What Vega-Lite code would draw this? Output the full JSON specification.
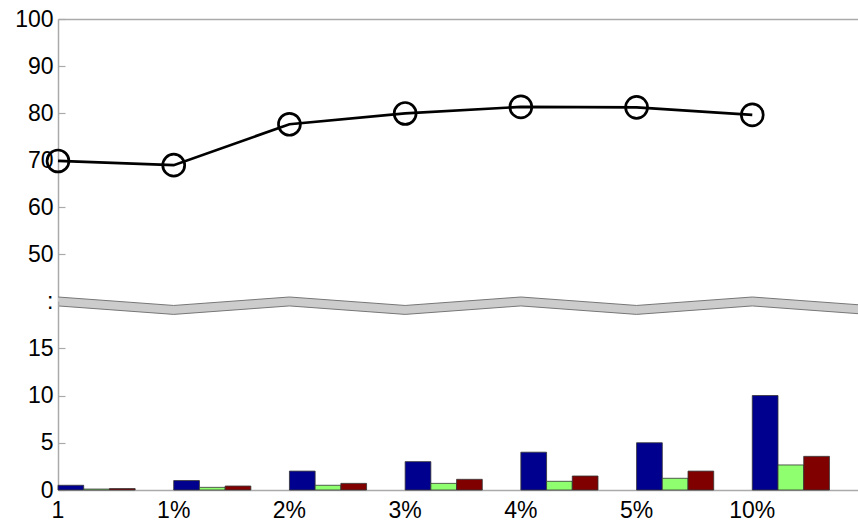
{
  "$schema": "https://vega.github.io/schema/vega-lite/v6.json",
  "padding": {"left": 14, "top": 8, "right": 0, "bottom": 0},
  "spacing": 0,
  "bounds": "flush",
  "config": {
    "view": {"stroke": null},
    "font": "Liberation Sans",
    "axis": {
      "labelFont": "Liberation Sans",
      "labelFontSize": 23,
      "labelColor": "#000000",
      "domainColor": "#aaaaaa",
      "domainWidth": 1.5,
      "tickColor": "#aaaaaa",
      "tickWidth": 1.2,
      "grid": false,
      "title": null
    }
  },
  "datasets": {
    "accuracy": [
      {"level": "1", "value": 69.8},
      {"level": "1%", "value": 68.9},
      {"level": "2%", "value": 77.6},
      {"level": "3%", "value": 79.9},
      {"level": "4%", "value": 81.3},
      {"level": "5%", "value": 81.2},
      {"level": "10%", "value": 79.6}
    ],
    "counts": [
      {"level": "1", "series": "A", "value": 0.5},
      {"level": "1", "series": "B", "value": 0.1},
      {"level": "1", "series": "C", "value": 0.15},
      {"level": "1%", "series": "A", "value": 1.0},
      {"level": "1%", "series": "B", "value": 0.28},
      {"level": "1%", "series": "C", "value": 0.42},
      {"level": "2%", "series": "A", "value": 2.0},
      {"level": "2%", "series": "B", "value": 0.5},
      {"level": "2%", "series": "C", "value": 0.7},
      {"level": "3%", "series": "A", "value": 3.0},
      {"level": "3%", "series": "B", "value": 0.7},
      {"level": "3%", "series": "C", "value": 1.13},
      {"level": "4%", "series": "A", "value": 4.0},
      {"level": "4%", "series": "B", "value": 0.92},
      {"level": "4%", "series": "C", "value": 1.48},
      {"level": "5%", "series": "A", "value": 5.0},
      {"level": "5%", "series": "B", "value": 1.24},
      {"level": "5%", "series": "C", "value": 2.0},
      {"level": "10%", "series": "A", "value": 10.0},
      {"level": "10%", "series": "B", "value": 2.65},
      {"level": "10%", "series": "C", "value": 3.56}
    ],
    "breakBand": [
      {"k": 0, "lo": 38.95, "hi": 40.85},
      {"k": 1, "lo": 37.15, "hi": 39.05},
      {"k": 2, "lo": 38.95, "hi": 40.85},
      {"k": 3, "lo": 37.15, "hi": 39.05},
      {"k": 4, "lo": 38.95, "hi": 40.85},
      {"k": 5, "lo": 37.15, "hi": 39.05},
      {"k": 6, "lo": 38.95, "hi": 40.85},
      {"k": 7, "lo": 37.15, "hi": 39.05}
    ]
  },
  "resolve": {"scale": {"x": "independent"}},
  "vconcat": [
    {
      "width": 810,
      "height": 282,
      "resolve": {"scale": {"x": "independent"}},
      "layer": [
        {
          "data": {"name": "accuracy"},
          "mark": {"type": "line", "color": "#000000", "strokeWidth": 2.7},
          "encoding": {
            "x": {
              "field": "level", "type": "ordinal", "sort": null, "bandPosition": 0,
              "scale": {"type": "band", "domain": ["1", "1%", "2%", "3%", "4%", "5%", "10%"], "paddingInner": 0, "paddingOuter": 0, "align": 0},
              "axis": {"orient": "top", "labels": false, "ticks": false}
            },
            "y": {
              "field": "value", "type": "quantitative",
              "scale": {"domain": [40, 100], "zero": false, "nice": false},
              "axis": {
                "values": [40, 50, 60, 70, 80, 90, 100],
                "labelExpr": "datum.value == 40 ? ':' : datum.label",
                "tickSize": -7,
                "labelPadding": 12,
                "labelFlush": false
              }
            }
          }
        },
        {
          "data": {"name": "accuracy"},
          "mark": {"type": "point", "filled": false, "color": "#000000", "strokeWidth": 2.7, "size": 480, "opacity": 1},
          "encoding": {
            "x": {
              "field": "level", "type": "ordinal", "sort": null, "bandPosition": 0,
              "scale": {"type": "band", "domain": ["1", "1%", "2%", "3%", "4%", "5%", "10%"], "paddingInner": 0, "paddingOuter": 0, "align": 0},
              "axis": null
            },
            "y": {"field": "value", "type": "quantitative", "scale": {"domain": [40, 100], "zero": false, "nice": false}}
          }
        },
        {
          "data": {"name": "breakBand"},
          "mark": {"type": "area", "color": "#cccccc", "opacity": 1},
          "encoding": {
            "x": {"field": "k", "type": "quantitative", "scale": {"domain": [0, 7], "nice": false, "zero": false}, "axis": null},
            "y": {"field": "hi", "type": "quantitative", "scale": {"domain": [40, 100], "zero": false, "nice": false}},
            "y2": {"field": "lo"}
          }
        },
        {
          "data": {"name": "breakBand"},
          "mark": {"type": "line", "color": "#777777", "strokeWidth": 1},
          "encoding": {
            "x": {"field": "k", "type": "quantitative", "scale": {"domain": [0, 7], "nice": false, "zero": false}, "axis": null},
            "y": {"field": "hi", "type": "quantitative", "scale": {"domain": [40, 100], "zero": false, "nice": false}}
          }
        },
        {
          "data": {"name": "breakBand"},
          "mark": {"type": "line", "color": "#777777", "strokeWidth": 1},
          "encoding": {
            "x": {"field": "k", "type": "quantitative", "scale": {"domain": [0, 7], "nice": false, "zero": false}, "axis": null},
            "y": {"field": "lo", "type": "quantitative", "scale": {"domain": [40, 100], "zero": false, "nice": false}}
          }
        }
      ]
    },
    {
      "width": 810,
      "height": 189,
      "data": {"name": "counts"},
      "mark": {"type": "bar", "stroke": "#333333", "strokeWidth": 0.8},
      "encoding": {
        "x": {
          "field": "level", "type": "ordinal", "sort": null,
          "scale": {"type": "band", "domain": ["1", "1%", "2%", "3%", "4%", "5%", "10%"], "paddingInner": 0, "paddingOuter": 0, "align": 0},
          "axis": {"orient": "bottom", "labelAngle": 0, "ticks": false, "labelPadding": 9, "labelOffset": -57.86}
        },
        "xOffset": {
          "field": "series", "type": "nominal",
          "scale": {"domain": ["A", "B", "C"], "paddingInner": 0, "paddingOuter": 0.75, "align": 0}
        },
        "y": {
          "field": "value", "type": "quantitative",
          "scale": {"domain": [0, 20], "nice": false},
          "axis": {"values": [0, 5, 10, 15], "tickSize": -7, "labelPadding": 12, "labelFlush": false}
        },
        "color": {
          "field": "series", "type": "nominal",
          "scale": {"domain": ["A", "B", "C"], "range": ["#00008f", "#8fff70", "#800000"]},
          "legend": null
        }
      }
    }
  ]
}
